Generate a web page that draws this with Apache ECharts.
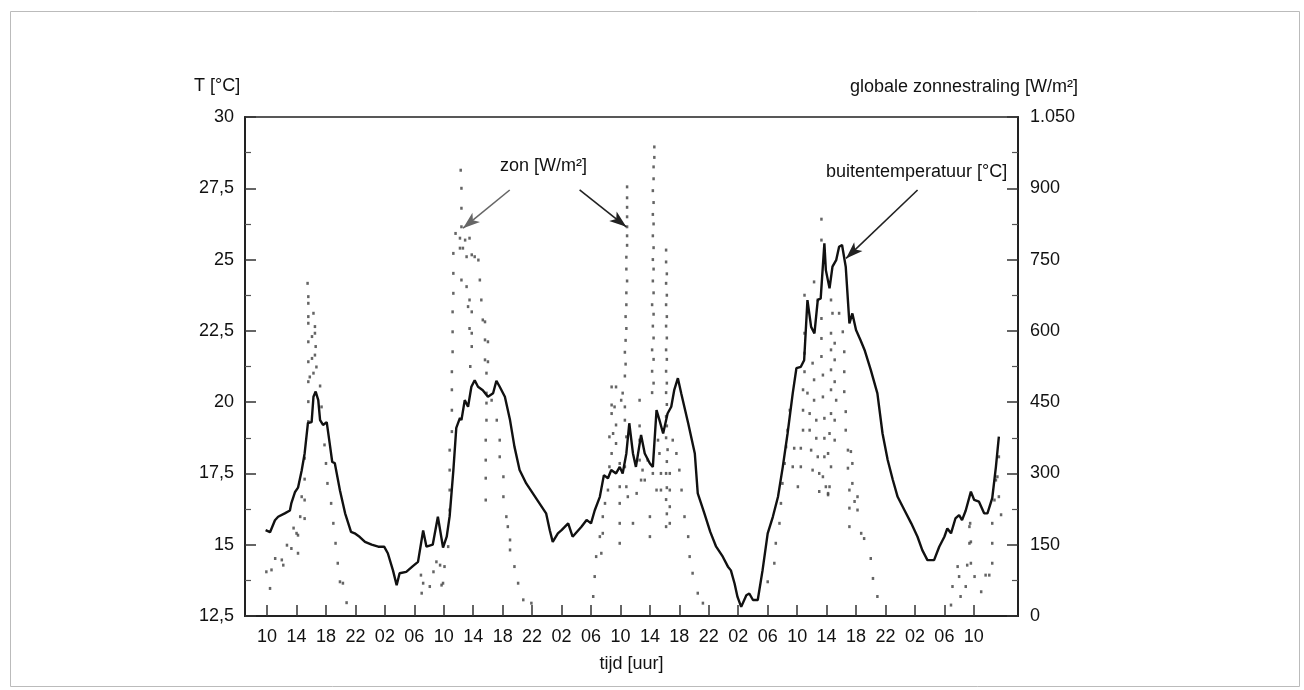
<!DOCTYPE html>
<html>
<head>
<meta charset="utf-8">
<script src="https://cdn.jsdelivr.net/npm/echarts@6/dist/echarts.min.js"></script>
<style>
html,body{margin:0;padding:0;background:#fff;}
#chart{width:1304px;height:690px;}
</style>
</head>
<body>
<div id="chart"></div>
<script>
// ---- data ----
// time axis: hours counted from 00:00 of the first day
const xTickHours = [10,14,18,22,26,30,34,38,42,46,50,54,58,62,66,70,74,78,82,86,90,94,98,102,106];

// outside temperature [°C]
const tempHours = [9.8,10.4,11.07,11.5,12.4,13.1,13.3,13.8,14.2,14.7,15.1,15.55,16.05,16.3,16.6,16.95,17.2,17.6,18.1,18.5,18.85,19.2,19.9,20.6,21.4,21.9,22.6,23.3,24.2,25.1,25.9,26.4,27.1,27.6,28.0,28.9,29.8,30.5,31.2,31.65,32.5,33.2,33.9,34.4,34.8,35.3,35.7,36.2,36.4,36.85,37.3,37.75,38.2,38.65,39.3,40.0,40.7,41.15,41.6,42.3,43.0,43.6,44.3,45.2,46.1,47.0,47.9,48.4,48.8,49.5,50.0,50.9,51.5,52.7,53.4,54.0,54.5,55.2,55.75,56.3,56.75,57.4,57.9,58.3,58.8,59.2,59.7,60.1,60.8,61.3,62.0,62.4,62.9,63.3,63.8,64.4,64.9,65.3,65.8,66.25,67.2,68.1,68.5,69.4,70.2,71.0,71.9,72.6,73.0,73.5,73.9,74.4,75.1,75.5,76.0,76.65,77.3,78.0,78.7,79.4,80.05,80.7,81.4,81.9,82.5,82.95,83.4,83.9,84.35,84.8,85.2,85.7,85.9,86.4,86.8,87.3,87.7,88.1,88.6,89.1,89.5,90.0,90.6,91.2,92.0,92.9,93.6,94.3,95.0,95.65,96.6,97.5,98.35,99.0,99.7,100.6,101.3,102.0,102.4,102.9,103.5,104.0,104.4,104.9,105.6,106.05,106.7,107.4,107.85,108.5,109.0,109.4];
const tempValues = [15.51,15.44,15.86,15.98,16.1,16.2,16.46,16.85,17.0,17.6,18.2,19.27,19.3,20.19,20.37,20.07,19.37,19.2,19.3,18.56,17.9,17.86,16.9,16.1,15.45,15.4,15.27,15.1,15.0,14.93,14.93,14.7,14.1,13.58,14.0,14.05,14.25,14.4,15.5,14.93,15.0,15.98,14.9,15.28,16.0,17.6,19.1,19.45,19.37,20.07,19.84,20.54,20.77,20.54,20.42,20.19,20.31,20.75,20.54,20.19,19.37,18.44,17.62,17.15,16.8,16.45,16.1,15.51,15.1,15.4,15.51,15.75,15.28,15.63,15.87,15.75,16.2,16.68,17.44,17.33,17.62,17.5,17.73,17.5,18.2,19.26,18.2,17.73,18.85,18.2,17.85,17.73,19.72,19.37,18.9,19.6,19.84,20.42,20.84,20.31,19.26,18.2,16.8,16.1,15.45,14.93,14.58,14.23,14.1,13.64,13.17,12.82,13.23,13.29,13.06,13.06,14.1,15.4,15.98,16.68,17.73,18.9,20.31,21.19,21.24,21.47,23.58,22.64,22.41,23.58,23.64,25.57,24.63,23.99,24.75,24.98,25.45,25.51,24.75,22.76,23.11,22.53,22.18,21.8,21.13,20.31,18.9,17.97,17.27,16.68,16.2,15.75,15.28,14.81,14.46,14.46,14.93,15.28,15.57,15.4,15.92,16.04,15.86,16.2,16.86,16.57,16.51,16.1,16.1,16.63,17.73,18.79];

// global solar radiation [W/m²], [hour, value] per day
const sunDay1 = [[9.9,93],[10.6,97],[10.4,58],[11.1,121],[12.0,118],[12.2,107],[12.7,149],[13.3,142],[14.2,132],[13.6,185],[14.0,174],[14.2,170],[14.5,209],[15.1,205],[14.7,251],[15.1,244],[15.1,288],[15.1,332],[15.6,409],[15.6,451],[15.6,493],[15.8,503],[16.3,511],[15.6,535],[16.1,542],[16.5,549],[16.7,524],[15.6,577],[16.1,588],[16.5,595],[16.6,567],[15.6,616],[15.6,630],[16.3,637],[16.5,609],[15.6,658],[15.6,672],[15.5,700],[17.2,484],[17.4,440],[17.8,360],[18.0,321],[18.2,279],[18.7,237],[19.0,195],[19.3,153],[19.6,111],[19.9,72],[20.3,69],[20.8,28]];
const sunDay2 = [[31.0,48],[31.2,69],[30.9,86],[32.1,62],[32.6,93],[33.0,114],[33.5,107],[33.7,65],[33.9,69],[34.1,104],[34.6,146],[34.8,223],[34.8,265],[34.8,307],[34.8,349],[35.1,388],[35.1,433],[35.1,476],[35.1,514],[35.2,556],[35.2,598],[35.2,640],[35.3,679],[35.3,721],[35.3,763],[35.6,805],[36.4,819],[36.4,858],[36.4,900],[36.3,938],[36.2,795],[36.9,791],[37.5,795],[36.2,774],[36.6,774],[37.1,756],[37.8,760],[38.2,756],[38.7,749],[38.9,707],[39.1,665],[37.5,665],[37.1,693],[36.4,707],[37.3,651],[37.8,640],[37.5,605],[37.8,595],[37.8,567],[37.6,525],[39.3,623],[39.6,619],[39.6,581],[40.0,577],[39.6,539],[40.0,535],[39.8,511],[39.8,469],[39.8,448],[39.8,412],[39.7,370],[39.7,328],[39.7,290],[39.7,244],[40.5,454],[41.2,412],[41.6,370],[41.6,335],[42.1,293],[42.1,251],[42.5,209],[42.7,188],[43.0,160],[43.0,139],[43.6,104],[44.1,69],[44.8,34],[45.9,27]];
const sunDay3 = [[54.3,41],[54.5,83],[54.7,125],[55.4,132],[55.2,167],[55.6,174],[55.6,209],[55.9,237],[56.3,265],[56.5,314],[56.8,342],[56.5,377],[57.0,384],[56.8,426],[56.8,444],[56.8,482],[57.4,482],[57.2,440],[57.4,402],[57.4,363],[57.9,321],[57.9,272],[57.9,237],[57.9,195],[57.9,153],[58.3,469],[58.6,440],[58.1,454],[58.6,412],[58.8,377],[58.6,314],[58.8,272],[59.0,251],[59.7,195],
  [58.6,505],[58.7,530],[58.6,555],[58.7,580],[58.8,605],[58.7,630],[58.8,655],[58.8,680],[58.9,705],[58.8,730],[58.8,755],[58.9,780],[58.9,800],[58.9,819],[58.9,840],[58.9,860],[58.9,880],[58.9,903],
  [62.3,470],[62.5,490],[62.3,515],[62.5,540],[62.3,560],[62.5,585],[62.4,610],[62.5,635],[62.3,655],[62.5,680],[62.4,705],[62.5,730],[62.4,750],[62.5,775],[62.4,800],[62.5,825],[62.4,845],[62.5,870],[62.4,895],[62.5,920],[62.5,945],[62.6,965],[62.6,987],
  [64.2,770],[64.2,745],[64.3,720],[64.2,700],[64.3,675],[64.2,655],[64.3,630],[64.2,610],[64.3,585],[64.2,560],[64.3,540],[64.2,515],[64.3,490],[64.2,470],[64.3,445],[64.2,420],[64.3,400],[64.2,375],[64.4,350],[64.3,325],[64.2,300],[64.3,270],[64.2,245],[64.3,215],[64.2,188],
  [65.1,370],[65.6,342],[64.7,300],[64.7,265],[64.7,230],[64.7,195],[66.0,307],[66.3,265],[66.7,209],[67.2,167],[67.4,125],[67.8,90],[68.5,48],[69.2,27],[60.2,258],[60.8,286],[61.0,307],[61.3,286],[61.7,328],[62.0,167],[62.0,209],[63.1,370],[63.3,342],[63.5,300],[63.5,265],[62.9,265],[62.4,300],[60.6,454],[60.6,400],[60.6,370],[60.6,328]];
const sunDay4 = [[78.0,72],[78.9,111],[79.1,153],[79.6,195],[79.8,237],[80.0,279],[80.3,321],[80.5,356],[80.7,391],[81.0,433],[81.4,314],[81.6,353],[82.1,272],[82.5,314],[82.5,353],[82.8,391],[82.8,433],[82.8,476],[83.0,514],[83.0,553],[83.0,595],[83.0,675],[83.4,469],[83.7,426],[83.7,391],[83.9,349],[84.1,307],[84.1,532],[84.3,497],[84.3,454],[84.6,412],[84.6,374],[84.8,335],[85.0,300],[85.0,262],[84.3,703],[84.8,665],[85.3,626],[85.3,584],[85.3,546],[85.5,507],[85.5,461],[85.7,416],[85.7,374],[85.7,335],[85.5,293],[85.9,272],[86.2,255],[85.3,791],[85.3,835],[86.6,665],[86.8,637],[86.6,595],[87.1,574],[86.6,560],[87.1,539],[86.6,518],[87.1,493],[86.6,476],[87.3,454],[86.6,426],[87.1,412],[86.4,384],[87.1,370],[86.2,342],[86.6,314],[86.4,272],[86.2,258],[87.7,637],[88.2,598],[88.4,556],[88.4,514],[88.4,472],[88.6,430],[88.6,391],[88.9,349],[89.3,346],[88.9,311],[89.5,321],[89.1,265],[89.5,279],[89.1,227],[89.8,241],[90.2,251],[89.1,188],[90.2,223],[90.7,174],[91.1,163],[92.0,121],[92.3,79],[92.9,41]];
const sunDay5 = [[102.9,23],[103.1,62],[103.8,104],[104.0,83],[104.2,41],[104.9,62],[105.1,107],[105.6,111],[105.4,153],[105.6,156],[105.4,188],[105.5,195],[106.1,83],[107.0,51],[107.6,86],[108.1,86],[108.5,111],[108.5,153],[108.5,195],[108.8,244],[109.0,286],[109.2,293],[109.4,251],[109.4,335],[109.7,213]];

// annotation arrows in data coordinates: [fromHour, fromT, toHour, toT]
const arrowZon1 = [42.96, 27.44, 36.62, 26.1];
const arrowZon2 = [52.45, 27.44, 58.79, 26.15];
const arrowTemp = [98.36, 27.44, 88.64, 25.04];

// ---- chart ----
const FONT = '"Liberation Sans", Arial, sans-serif';
const TXT = '#111';
const FS = 18;
const chart = echarts.init(document.getElementById('chart'), null, {renderer: 'canvas'});

const tempData = tempHours.map((h, i) => [h, tempValues[i]]);
const sunData = [].concat(sunDay1, sunDay2, sunDay3, sunDay4, sunDay5);

function arrowLine(a, color) {
  return [
    {coord: [a[0], a[1]], symbol: 'none'},
    {coord: [a[2], a[3]], symbol: 'arrow', symbolSize: [9, 17], lineStyle: {color: color}}
  ];
}

const option = {
  backgroundColor: '#fff',
  animation: false,
  grid: {left: 245, right: 286, top: 117, bottom: 74, show: true, borderColor: '#222', borderWidth: 1.6, backgroundColor: 'transparent'},
  xAxis: {
    type: 'value', min: 7, max: 112,
    name: 'tijd [uur]', nameLocation: 'middle', nameGap: 39,
    nameTextStyle: {fontFamily: FONT, fontSize: FS, color: TXT},
    axisLine: {show: true, lineStyle: {color: '#222', width: 2}},
    axisTick: {show: true, inside: true, length: 11, customValues: xTickHours, lineStyle: {color: '#333', width: 1.5}},
    axisLabel: {customValues: xTickHours, margin: 12, fontFamily: FONT, fontSize: FS, color: TXT,
      formatter: v => { const h = Math.round(v) % 24; return (h < 10 ? '0' : '') + h; }},
    splitLine: {show: false}
  },
  yAxis: [
    {
      type: 'value', min: 12.5, max: 30, interval: 2.5, position: 'left',
      axisLine: {show: true, lineStyle: {color: '#222', width: 2}},
      axisTick: {show: true, inside: true, length: 11, lineStyle: {color: '#333', width: 1.5}},
      minorTick: {show: true, splitNumber: 2, length: 6, lineStyle: {color: '#555', width: 1.2}},
      axisLabel: {margin: 11, fontFamily: FONT, fontSize: FS, color: TXT, formatter: v => String(v).replace('.', ',')},
      splitLine: {show: false}
    },
    {
      type: 'value', min: 0, max: 1050, interval: 150, position: 'right',
      axisLine: {show: true, lineStyle: {color: '#222', width: 2}},
      axisTick: {show: true, inside: true, length: 11, lineStyle: {color: '#333', width: 1.5}},
      minorTick: {show: true, splitNumber: 2, length: 6, lineStyle: {color: '#555', width: 1.2}},
      axisLabel: {margin: 12, fontFamily: FONT, fontSize: FS, color: TXT,
        formatter: v => v >= 1000 ? Math.floor(v / 1000) + '.' + String(v % 1000).padStart(3, '0') : String(v)},
      splitLine: {show: false}
    }
  ],
  series: [
    {
      name: 'zon', type: 'scatter', yAxisIndex: 1, data: sunData,
      symbol: 'rect', symbolSize: [2.5, 3],
      itemStyle: {color: '#4a4a4a', opacity: 0.85},
      silent: true, z: 2
    },
    {
      name: 'buitentemperatuur', type: 'line', yAxisIndex: 0, data: tempData,
      showSymbol: false, symbol: 'none',
      lineStyle: {color: '#111', width: 2.4}, z: 3,
      markLine: {
        silent: true, animation: false, label: {show: false},
        lineStyle: {color: '#333', width: 1.6, type: 'solid'},
        data: [arrowLine(arrowZon1, '#666'), arrowLine(arrowZon2, '#222'), arrowLine(arrowTemp, '#222')]
      }
    }
  ],
  graphic: [
    {type: 'rect', left: 8, top: 9, shape: {width: 1289, height: 675}, style: {fill: 'none', stroke: '#bbb', lineWidth: 1}, silent: true},
    {type: 'text', left: 194, top: 77, style: {text: 'T [°C]', font: FS + 'px ' + FONT, fill: TXT}},
    {type: 'text', right: 1304 - 1078, top: 78, style: {text: 'globale zonnestraling [W/m²]', font: FS + 'px ' + FONT, fill: TXT}},
    {type: 'text', left: 500, top: 157, style: {text: 'zon [W/m²]', font: FS + 'px ' + FONT, fill: TXT}},
    {type: 'text', left: 826, top: 163, style: {text: 'buitentemperatuur [°C]', font: FS + 'px ' + FONT, fill: TXT}}
  ]
};
chart.setOption(option);
</script>
</body>
</html>
